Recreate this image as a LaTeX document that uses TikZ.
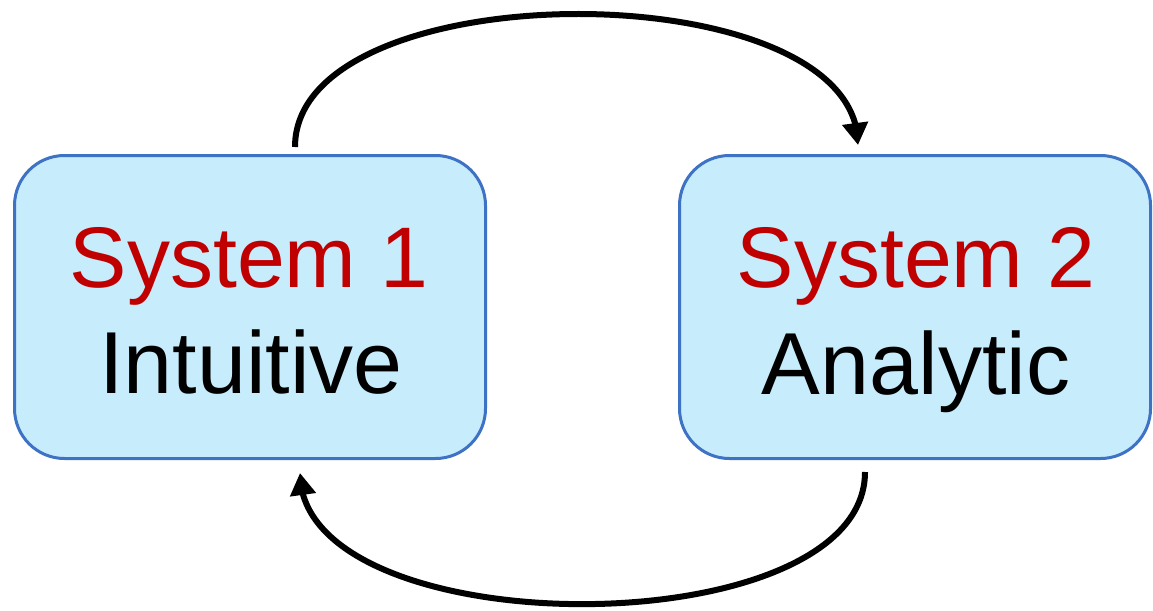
\documentclass[tikz,border=0pt]{standalone}
\usepackage{fontspec}
\setmainfont{Liberation Sans}
\usetikzlibrary{arrows.meta,bending}

\definecolor{boxfill}{RGB}{199,236,252}
\definecolor{boxline}{RGB}{62,114,196}
\definecolor{titlered}{RGB}{192,0,0}

\tikzset{
  sysbox/.style={draw=boxline, line width=3pt, fill=boxfill, rounded corners=50pt,
    minimum width=471pt, minimum height=303pt, inner sep=0pt},
  systitle/.style={anchor=base, text=titlered, inner sep=0pt,
    font=\fontsize{86}{106}\selectfont},
  syssub/.style={anchor=base, text=black, inner sep=0pt,
    font=\fontsize{88}{106}\selectfont},
  loop/.style={draw=black, line width=6pt,
    -{Triangle[length=22pt,width=25pt]}}
}

\begin{document}
\begin{tikzpicture}[x=1pt,y=-1pt]
  \useasboundingbox (0,0) rectangle (1153,610);

  % the two systems
  \node[sysbox] (s1) at (250,307) {};
  \node[sysbox] (s2) at (915,307) {};

  \node[systitle] (s1title) at (249,287) {System 1};
  \node[syssub]   (s1sub)   at (251,393) {Intuitive};
  \node[systitle] (s2title) at (916,287) {System 2};
  \node[syssub]   (s2sub)   at (916,394) {Analytic};

  % connector ends just above and below the boxes
  \coordinate (s1top) at (295,147);
  \coordinate (s2top) at (858,145);
  \coordinate (s2bot) at (865,472);
  \coordinate (s1bot) at (300,473);

  % System 1 -> System 2 over the top
  \draw[loop] (s1top) .. controls (295,-30) and (859,-30) .. (s2top);
  % System 2 -> System 1 under the bottom
  \draw[loop] (s2bot) .. controls (865,648) and (300,648) .. (s1bot);
\end{tikzpicture}
\end{document}
